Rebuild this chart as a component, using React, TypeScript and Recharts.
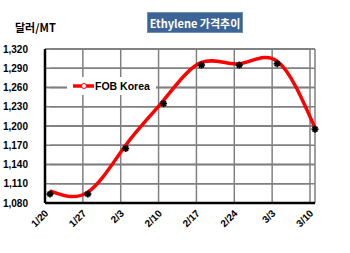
import React from 'react';
import { ComposedChart, Line, XAxis, YAxis, CartesianGrid, Legend } from 'recharts';

const categories = ['1/20', '1/27', '2/3', '2/10', '2/17', '2/24', '3/3', '3/10'];
const lineValues = [1099, 1097, 1170, 1240, 1299, 1297, 1301, 1197];
const markerValues = [1094, 1094, 1165, 1235, 1295, 1295, 1297, 1195];
const yTicks = [1080, 1110, 1140, 1170, 1200, 1230, 1260, 1290, 1320];
const gridValues = yTicks.slice(1);

const data = categories.map((c, i) => {
  const row: any = { cat: c, fob: lineValues[i], mark: markerValues[i] };
  gridValues.forEach((t) => {
    row['g' + t] = t;
  });
  return row;
});

const FONT = '"Liberation Sans", Arial, sans-serif';

const StarDot = (props: any) => {
  const { cx, cy } = props;
  if (cx == null || cy == null) return null;
  const r = 3.5;
  return (
    <g stroke="#000" strokeWidth={1.8}>
      <line x1={cx - r} y1={cy} x2={cx + r} y2={cy} />
      <line x1={cx} y1={cy - r} x2={cx} y2={cy + r} />
      <line x1={cx - r * 0.7} y1={cy - r * 0.7} x2={cx + r * 0.7} y2={cy + r * 0.7} />
      <line x1={cx - r * 0.7} y1={cy + r * 0.7} x2={cx + r * 0.7} y2={cy - r * 0.7} />
    </g>
  );
};

const XTick = (props: any) => {
  const { x, y, payload } = props;
  const ax = x - 1;
  const ay = y + 3;
  return (
    <text
      x={ax}
      y={ay}
      transform={`rotate(-45, ${ax}, ${ay})`}
      textAnchor="end"
      fontFamily={FONT}
      fontWeight="bold"
      fontSize={10}
      fill="#000"
    >
      {payload.value}
    </text>
  );
};

const LegendContent = (props: any) => {
  const items = (props.payload || []).filter((p: any) => p.dataKey === 'fob');
  return (
    <div style={{ background: '#fff', padding: '3px 6px', display: 'inline-flex', alignItems: 'center', whiteSpace: 'nowrap' }}>
      {items.map((p: any) => (
        <div key={p.value} style={{ display: 'flex', alignItems: 'center' }}>
          <svg width={21} height={8}>
            <line x1={0} y1={4} x2={21} y2={4} stroke="#ff0000" strokeWidth={3.5} />
            <circle cx={11} cy={4} r={2.5} fill="#fff" stroke="#ff0000" strokeWidth={1} />
          </svg>
          <span style={{ fontFamily: FONT, fontWeight: 'bold', fontSize: 10.5, color: '#000', marginLeft: 1 }}>
            FOB Korea
          </span>
        </div>
      ))}
    </div>
  );
};

export default function App() {
  return (
    <div style={{ position: 'absolute', left: 0, top: 0, width: 350, height: 253, background: '#fff' }}>
      <div
        style={{
          position: 'absolute', left: 15, top: 20, fontFamily: '"Noto Sans CJK KR", "Noto Sans", sans-serif',
          fontWeight: 'bold', fontSize: 11, color: '#000', lineHeight: '14px',
        }}
      >
        달러/MT
      </div>
      <div
        style={{
          position: 'absolute', left: 147, top: 12, width: 96, height: 21, background: '#3c6496',
          color: '#fff', fontFamily: '"Noto Sans CJK KR", "Noto Sans", sans-serif', fontWeight: 'bold',
          fontSize: 11, lineHeight: '21px', textAlign: 'center', whiteSpace: 'nowrap', border: '1px solid #6f8fb8', boxSizing: 'border-box',
        }}
      >
        Ethylene 가격추이
      </div>
      <ComposedChart width={350} height={253} data={data} margin={{ top: 49, right: 35, bottom: 0, left: 0 }}>
        <CartesianGrid xAxisId="grid" vertical={true} horizontal={true} stroke="#808080" strokeWidth={1.5} />
        <XAxis
          dataKey="cat"
          padding={{ left: 5, right: 0 }}
          axisLine={{ stroke: '#000', strokeWidth: 2.5 }}
          tickLine={false}
          interval={0}
          height={50}
          tick={<XTick />}
        />
        <XAxis dataKey="cat" xAxisId="grid" padding={{ left: 0, right: 5 }} hide height={0} />
        <YAxis
          yAxisId="right"
          orientation="right"
          domain={[1080, 1320]}
          width={0}
          tick={false}
          tickLine={false}
          axisLine={{ stroke: '#555', strokeWidth: 1 }}
        />
        <YAxis
          domain={[1080, 1320]}
          ticks={yTicks}
          width={45}
          axisLine={{ stroke: '#000', strokeWidth: 2.5 }}
          tickLine={false}
          tickSize={6}
          tickMargin={11}
          tickFormatter={(v: number) => v.toLocaleString('en-US')}
          tick={{ fontFamily: FONT, fontWeight: 'bold', fontSize: 10, fill: '#000' }}
        />
        <Legend
          content={<LegendContent />}
          wrapperStyle={{ position: 'absolute', left: 67, top: 76, width: 0, height: 0, overflow: 'visible' }}
        />
        {gridValues.map((t) => (
          <Line
            key={'gm' + t}
            dataKey={'g' + t}
            stroke="#808080"
            strokeWidth={1.5}
            dot={false}
            activeDot={false}
            legendType="none"
            isAnimationActive={false}
          />
        ))}
        {gridValues.map((t) => (
          <Line
            key={'gg' + t}
            xAxisId="grid"
            dataKey={'g' + t}
            stroke="#808080"
            strokeWidth={1.5}
            dot={false}
            activeDot={false}
            legendType="none"
            isAnimationActive={false}
          />
        ))}
        <Line
          dataKey="fob"
          type="natural"
          stroke="#ff0000"
          strokeWidth={3.5}
          dot={false}
          isAnimationActive={false}
        />
        <Line
          dataKey="mark"
          stroke="none"
          legendType="none"
          dot={<StarDot />}
          activeDot={false}
          isAnimationActive={false}
        />
      </ComposedChart>
    </div>
  );
}
